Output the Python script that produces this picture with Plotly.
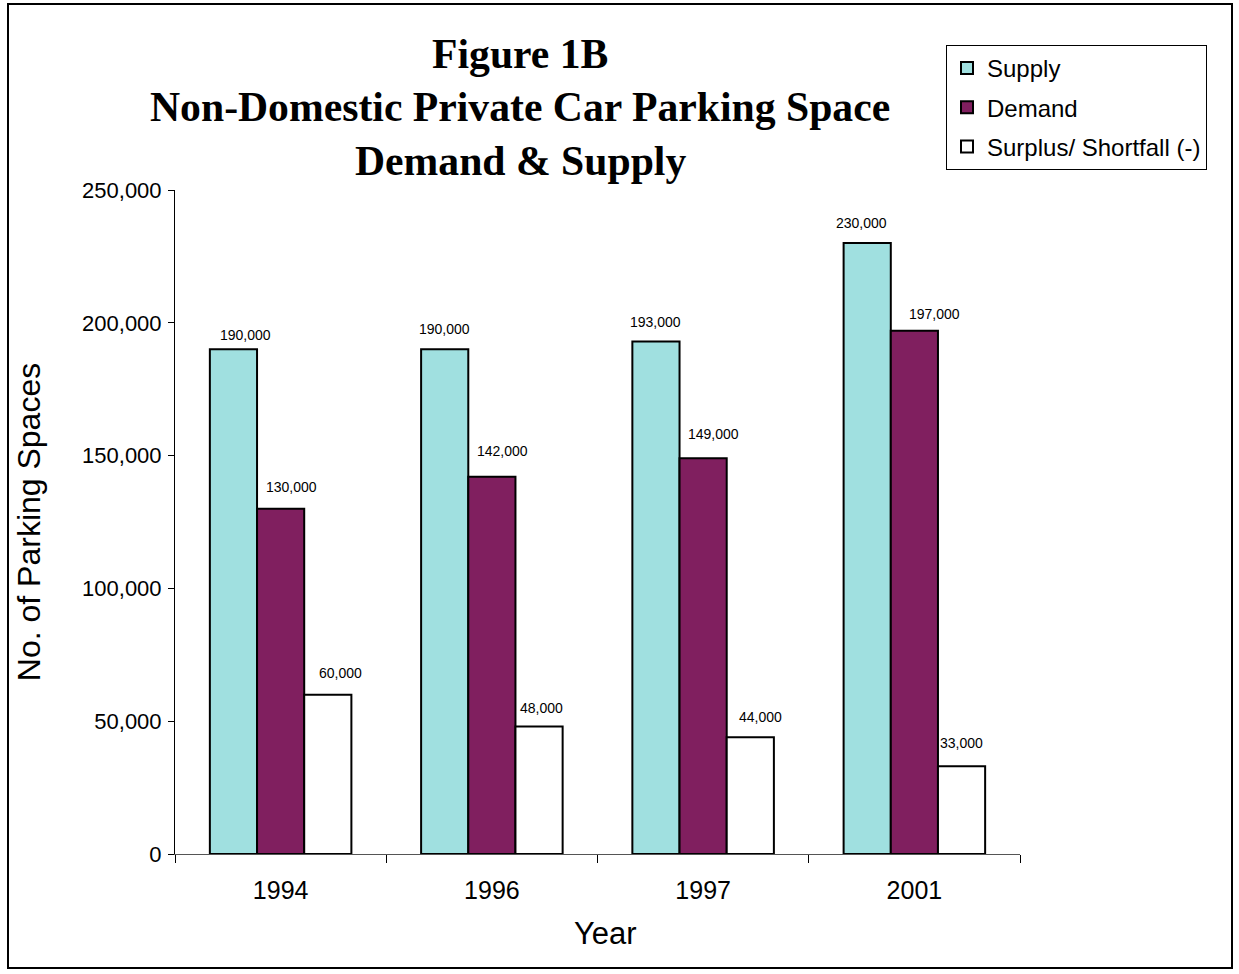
import plotly.graph_objects as go

years = ["1994", "1996", "1997", "2001"]
supply = [190000, 190000, 193000, 230000]
demand = [130000, 142000, 149000, 197000]
surplus = [60000, 48000, 44000, 33000]

series_names = ["Supply", "Demand", "Surplus/ Shortfall (-)"]
series_values = [supply, demand, surplus]
series_colors = ["#A0E0E0", "#801F5F", "#FFFFFF"]

# small label nudges (px) as in the original
label_dx = [[12, 0, 0, -6], [11, 11, 10, 20], [13, 2, 10, 0]]
label_dy = [[14, 20, 19, 20], [22, 26, 24, 17], [22, 19, 20, 23]]

W, H = 1239, 974
L, R, T, B = 175, 219, 190, 120
plot_w = W - L - R
plot_h = H - T - B
bargap = 0.33
cat_w = plot_w / len(years)
bar_w = cat_w * (1 - bargap) / 3

fig = go.Figure()
for i, (name, vals, col) in enumerate(zip(series_names, series_values, series_colors)):
    fig.add_trace(go.Bar(
        x=years, y=vals, name=name,
        marker=dict(color=col, line=dict(color="black", width=2)),
        legendgroup=name,
        hoverinfo="x+y",
    ))

annotations = []
for i, vals in enumerate(series_values):
    for j, v in enumerate(vals):
        annotations.append(dict(
            x=j, y=v, xref="x", yref="y",
            text=f"{v:,}", showarrow=False,
            xshift=(i - 1) * bar_w + label_dx[i][j],
            yshift=label_dy[i][j],
            yanchor="middle",
            font=dict(family="Liberation Sans, Arial", size=14, color="black"),
        ))

def py(ypx):
    return (H - B - ypx) / plot_h

def px(xpx):
    return (xpx - L) / plot_w

title_lines = ["Figure 1B", "Non-Domestic Private Car Parking Space", "Demand & Supply"]
title_y = [54, 107, 161]
for t, yy in zip(title_lines, title_y):
    annotations.append(dict(
        x=px(520), y=py(yy), xref="paper", yref="paper",
        text=f"<b>{t}</b>", showarrow=False, xanchor="center", yanchor="middle",
        font=dict(family="Liberation Serif, Times New Roman", size=41.7, color="black"),
    ))

# x-axis title (placed as in the original, slightly right of centre)
annotations.append(dict(
    x=px(605), y=py(933), xref="paper", yref="paper",
    text="Year", showarrow=False, xanchor="center", yanchor="middle",
    font=dict(family="Liberation Sans, Arial", size=31, color="black"),
))

fig.update_layout(
    width=W, height=H,
    margin=dict(l=L, r=R, t=T, b=B, pad=0, autoexpand=False),
    paper_bgcolor="white", plot_bgcolor="white",
    barmode="group", bargap=bargap, bargroupgap=0,
    showlegend=True,
    legend=dict(
        x=px(946), y=py(45), xanchor="left", yanchor="top",
        bordercolor="black", borderwidth=1, bgcolor="white",
        font=dict(family="Liberation Sans, Arial", size=24, color="black"),
        tracegroupgap=5, itemwidth=30,
    ),
    annotations=annotations,
    shapes=[dict(
        type="rect", xref="paper", yref="paper",
        x0=px(8), x1=px(1232), y0=py(968), y1=py(4),
        line=dict(color="black", width=2), layer="below",
    )],
    font=dict(family="Liberation Sans, Arial", color="black"),
)

fig.update_xaxes(
    type="category", range=[-0.5, len(years) - 0.5], autorange=False,
    automargin=False,
    showline=True, linecolor="#555555", linewidth=1,
    ticks="outside", tickson="boundaries", ticklen=8, tickcolor="black", tickwidth=1,
    tickangle=0, ticklabelstandoff=14,
    tickfont=dict(size=25, family="Liberation Sans, Arial"),
    showgrid=False, zeroline=False,
)
fig.update_yaxes(
    range=[0, 250000], autorange=False, dtick=50000, tickformat=",",
    automargin=False,
    showline=True, linecolor="black", linewidth=1,
    ticks="outside", ticklen=6, tickcolor="black", tickwidth=1,
    ticklabelstandoff=2,
    tickfont=dict(size=22, family="Liberation Sans, Arial"),
    title=dict(text="No. of Parking Spaces", font=dict(size=32, family="Liberation Sans, Arial"), standoff=31),
    showgrid=False, zeroline=False,
)

fig.write_html("out.html", post_script="document.body.style.margin='0';",
               config={"displayModeBar": False})
